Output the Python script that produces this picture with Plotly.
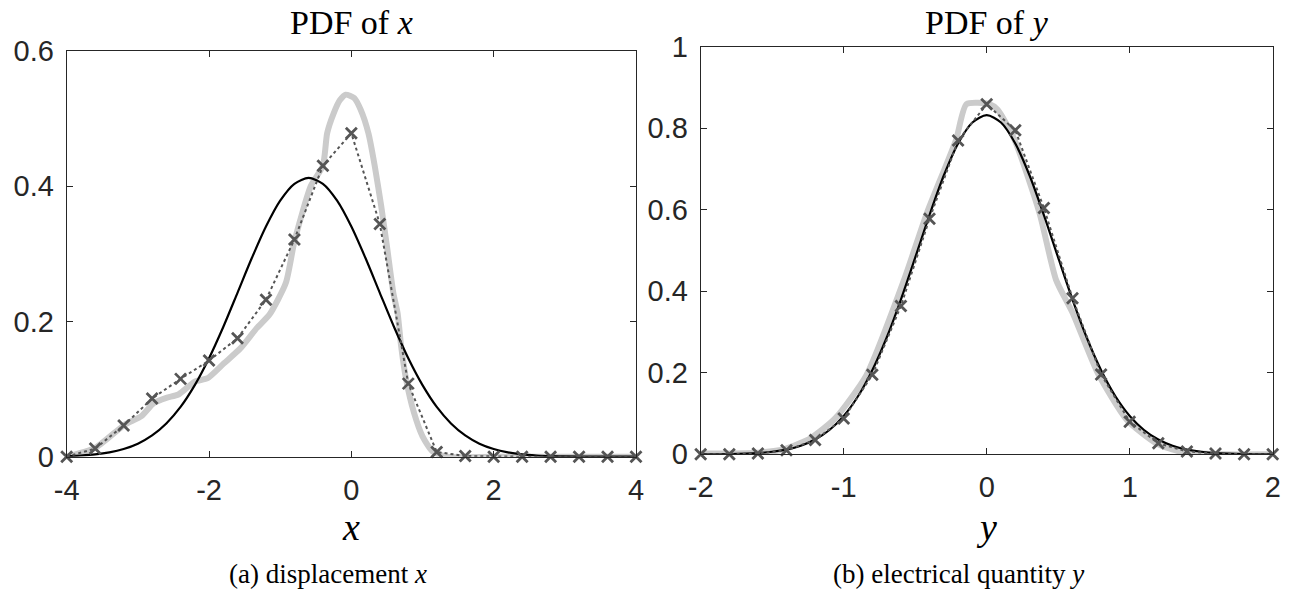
import plotly.graph_objects as go

# ---------------- data: left panel (PDF of x) ----------------
x_marks = [-4.0, -3.6, -3.2, -2.8, -2.4, -2.0, -1.6, -1.2, -0.8, -0.4, 0.0,
           0.4, 0.8, 1.2, 1.6, 2.0, 2.4, 2.8, 3.2, 3.6, 4.0]
px_marks = [0.0, 0.012, 0.046, 0.086, 0.115, 0.142, 0.175, 0.232, 0.321, 0.430, 0.478,
            0.344, 0.108, 0.007, 0.001, 0.0, 0.0, 0.0, 0.0, 0.0, 0.0]

x_gray = [-4.0, -3.6, -3.19, -2.95, -2.78, -2.6, -2.43, -2.2, -2.02, -1.79, -1.56,
          -1.33, -1.15, -0.92, -0.8, -0.57, -0.4, -0.34, -0.25, -0.16, -0.08, 0.04,
          0.13, 0.24, 0.33, 0.42, 0.5, 0.59, 0.65, 0.70, 0.77, 0.88, 1.0, 1.14,
          1.35, 2.0, 3.0, 4.0]
px_gray = [0.0, 0.013, 0.047, 0.060, 0.079, 0.087, 0.092, 0.111, 0.116, 0.138, 0.160,
           0.190, 0.210, 0.257, 0.318, 0.400, 0.430, 0.478, 0.507, 0.527, 0.535, 0.530,
           0.513, 0.478, 0.429, 0.370, 0.311, 0.242, 0.212, 0.163, 0.114, 0.065, 0.030, 0.008,
           0.0, 0.0, 0.0, 0.0]

x_black = [-4.0, -3.8, -3.6, -3.4, -3.2, -3.0, -2.8, -2.6, -2.4, -2.2, -2.0, -1.8, -1.6,
           -1.4, -1.2, -1.0, -0.8, -0.6, -0.4, -0.2, 0.0, 0.2, 0.4, 0.6, 0.8, 1.0,
           1.2, 1.4, 1.6, 1.8, 2.0, 2.2, 2.4, 2.6, 2.8, 3.0, 3.4, 4.0]
px_black = [0.0009, 0.0018, 0.0034, 0.0064, 0.0114, 0.0193, 0.0315, 0.0492, 0.0736, 0.1058,
            0.1455, 0.1917, 0.2422, 0.2932, 0.3402, 0.3784, 0.4033, 0.4120, 0.4033, 0.3784,
            0.3402, 0.2932, 0.2422, 0.1917, 0.1455, 0.1058, 0.0736, 0.0492, 0.0315, 0.0193,
            0.0114, 0.0064, 0.0034, 0.0018, 0.0009, 0.0004, 0.0001, 0.0]

# ---------------- data: right panel (PDF of y) ----------------
y_marks = [-2.0, -1.8, -1.6, -1.4, -1.2, -1.0, -0.8, -0.6, -0.4, -0.2, 0.0,
           0.2, 0.4, 0.6, 0.8, 1.0, 1.2, 1.4, 1.6, 1.8, 2.0]
py_marks = [0.0, 0.0, 0.002, 0.010, 0.035, 0.088, 0.195, 0.364, 0.578, 0.770, 0.859,
            0.795, 0.604, 0.383, 0.196, 0.080, 0.027, 0.007, 0.002, 0.0, 0.0]

y_gray = [-2.0, -1.6, -1.41, -1.23, -1.06, -0.84, -0.578, -0.418, -0.214, -0.141,
          0.02, 0.077, 0.194, 0.369, 0.485, 0.602, 0.777, 0.981, 1.185, 1.36, 1.65, 2.0]
py_gray = [0.002, 0.004, 0.013, 0.040, 0.088, 0.195, 0.428, 0.592, 0.772, 0.859,
           0.859, 0.845, 0.772, 0.592, 0.428, 0.346, 0.199, 0.084, 0.027, 0.006, 0.0, 0.0]

y_black = [-2.0, -1.8, -1.6, -1.5, -1.4, -1.3, -1.2, -1.1, -1.0, -0.9, -0.8, -0.7, -0.6,
           -0.5, -0.4, -0.3, -0.2, -0.1, 0.0, 0.1, 0.2, 0.3, 0.4, 0.5, 0.6, 0.7, 0.8,
           0.9, 1.0, 1.1, 1.2, 1.3, 1.4, 1.5, 1.6, 1.8, 2.0]
py_black = [0.0001, 0.0007, 0.0031, 0.0062, 0.0116, 0.0209, 0.0361, 0.0596, 0.0941, 0.1424,
            0.2063, 0.2860, 0.3797, 0.4825, 0.5870, 0.6840, 0.7626, 0.8140, 0.8320, 0.8140,
            0.7626, 0.6840, 0.5870, 0.4825, 0.3797, 0.2860, 0.2063, 0.1424, 0.0941, 0.0596,
            0.0361, 0.0209, 0.0116, 0.0062, 0.0031, 0.0007, 0.0001]

# ---------------- styles ----------------
AX = '#262626'
GRAY = '#cbcbcb'
DOT = '#555555'
SANS = 'Liberation Sans'
SERIF = 'Liberation Serif'

fig = go.Figure()

def add_panel(xg, yg, xb, yb, xm, ym, xa, ya):
    fig.add_trace(go.Scatter(x=xg, y=yg, mode='lines', line=dict(color=GRAY, width=6, shape='spline', smoothing=0.6),
                             xaxis=xa, yaxis=ya, showlegend=False, hoverinfo='skip'))
    fig.add_trace(go.Scatter(x=xb, y=yb, mode='lines', line=dict(color='black', width=2.2, shape='spline', smoothing=0.8),
                             xaxis=xa, yaxis=ya, showlegend=False, hoverinfo='skip'))
    fig.add_trace(go.Scatter(x=xm, y=ym, mode='lines+markers', line=dict(color=DOT, width=2, dash='dot'),
                             marker=dict(symbol='x-thin', size=11, line=dict(color=DOT, width=2.8)),
                             cliponaxis=False, xaxis=xa, yaxis=ya, showlegend=False, hoverinfo='skip'))

add_panel(x_gray, px_gray, x_black, px_black, x_marks, px_marks, 'x', 'y')
add_panel(y_gray, py_gray, y_black, py_black, y_marks, py_marks, 'x2', 'y2')

W, H = 1293, 596
axis_common = dict(showline=True, linecolor=AX, linewidth=1, mirror='ticks', ticks='inside',
                   ticklen=6, tickcolor=AX, tickwidth=1, showgrid=False, zeroline=False,
                   automargin=False, tickfont=dict(family=SANS, size=29, color=AX))

fig.update_layout(
    width=W, height=H, autosize=False,
    margin=dict(l=0, r=0, t=0, b=0, pad=0, autoexpand=False),
    paper_bgcolor='white', plot_bgcolor='white',
    xaxis=dict(domain=[66.7 / W, 636 / W], range=[-4, 4], tickvals=[-4, -2, 0, 2, 4],
               ticktext=['-4', '-2', '0', '2', '4'], anchor='y', ticklabelstandoff=7, **axis_common),
    yaxis=dict(domain=[1 - 456.7 / H, 1 - 50.7 / H], range=[0, 0.6], tickvals=[0, 0.2, 0.4, 0.6],
               ticktext=['0', '0.2', '0.4', '0.6'], anchor='x', ticklabelstandoff=6, **axis_common),
    xaxis2=dict(domain=[700.7 / W, 1272.7 / W], range=[-2, 2], tickvals=[-2, -1, 0, 1, 2],
                ticktext=['-2', '-1', '0', '1', '2'], anchor='y2', ticklabelstandoff=7, **axis_common),
    yaxis2=dict(domain=[1 - 454.3 / H, 1 - 46.7 / H], range=[0, 1], tickvals=[0, 0.2, 0.4, 0.6, 0.8, 1],
                ticktext=['0', '0.2', '0.4', '0.6', '0.8', '1'], anchor='x2', ticklabelstandoff=6, **axis_common),
)

def ann(text, xpx, ypx, size):
    fig.add_annotation(text=text, x=xpx / W, y=1 - ypx / H, xref='paper', yref='paper',
                       showarrow=False, xanchor='center', yanchor='middle',
                       font=dict(family=SERIF, size=size, color='black'))

ann('PDF of <i>x</i>', 351.5, 22, 34)
ann('PDF of <i>y</i>', 986.7, 22, 34)
ann('<i>x</i>', 351.5, 527, 38)
ann('<i>y</i>', 986.7, 527, 38)
ann('(a) displacement <i>x</i>', 328, 574, 27)
ann('(b) electrical quantity <i>y</i>', 958, 574, 27)

fig.write_html("out.html", config={'displayModeBar': False},
               post_script='document.body.style.margin="0px";')
